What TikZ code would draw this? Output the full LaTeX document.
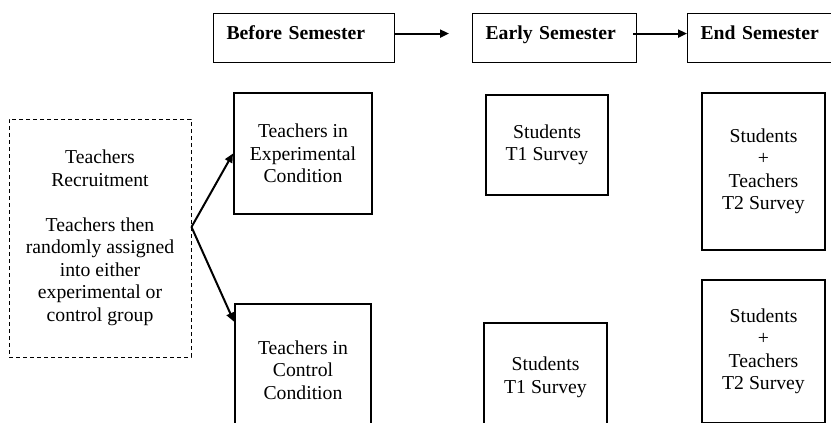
\documentclass[tikz,border=0pt]{standalone}
\usepackage{fontspec}
\setmainfont{Liberation Serif}
\usetikzlibrary{arrows.meta,positioning,calc}

\newcommand{\boxfont}{\fontsize{19.7}{22.5}\selectfont}

\tikzset{
  phase/.style={draw, line width=1.2pt, anchor=north west, inner xsep=13pt, inner ysep=0pt,
    text height=26pt, text depth=23pt, align=left, font=\boxfont\bfseries},
  stagebox/.style={draw, line width=2pt, inner sep=0pt, align=center},
  recruitbox/.style={draw, line width=1pt, dash pattern=on 4pt off 3pt, inner sep=0pt, align=center},
  flow/.style={line width=2pt, -{Triangle[length=9pt,width=8pt]}}
}

\begin{document}
\begin{tikzpicture}[x=1pt, y=-1pt, font=\boxfont]
\useasboundingbox (0,0) rectangle (831,423);
\clip (0,0) rectangle (831,423);

% semester headers
\node[phase, text width=155pt] (before) at (213,13) {Before Semester};
\node[phase, text width=138pt] (early) at (472,13) {Early Semester};
\node[phase, text width=140pt] (endsem) at (687,13) {End Semester};
\draw[flow] ([yshift=4.5pt]before.east) -- ([xshift=-23pt,yshift=4.5pt]early.west);
\draw[flow] ([xshift=-4pt,yshift=4.5pt]early.east) -- ([yshift=4.5pt]endsem.west);

% recruitment
\node[recruitbox, minimum width=182pt, minimum height=238pt] (recruit) at (100,238)
  {Teachers\\Recruitment\\[22.5pt]Teachers then\\randomly assigned\\into either\\experimental or\\control group};

% conditions
\node[stagebox, minimum width=138pt, minimum height=121pt] (exp) at (303,153.5)
  {Teachers in\\Experimental\\Condition};
\node[stagebox, minimum width=136pt, minimum height=132pt] (ctrl) at (303,370)
  {Teachers in\\Control\\Condition};

% surveys
\node[stagebox, minimum width=122pt, minimum height=100pt] (tonea) at (547,145)
  {Students\\T1 Survey};
\node[stagebox, minimum width=123pt, minimum height=109pt] (toneb) at (545.5,377.5)
  {Students\\T1 Survey};
\node[stagebox, minimum width=123pt, minimum height=157pt] (ttwoa) at (763.5,171.5)
  {Students\\+\\Teachers\\T2 Survey};
\node[stagebox, minimum width=123pt, minimum height=143pt] (ttwob) at (763.5,351.5)
  {Students\\+\\Teachers\\T2 Survey};

% random assignment
\coordinate (fork) at ([yshift=11pt]recruit.east);
\draw[flow] (fork) -- (exp.west);
\draw[flow] (fork) -- (ctrl.145);
\end{tikzpicture}
\end{document}
